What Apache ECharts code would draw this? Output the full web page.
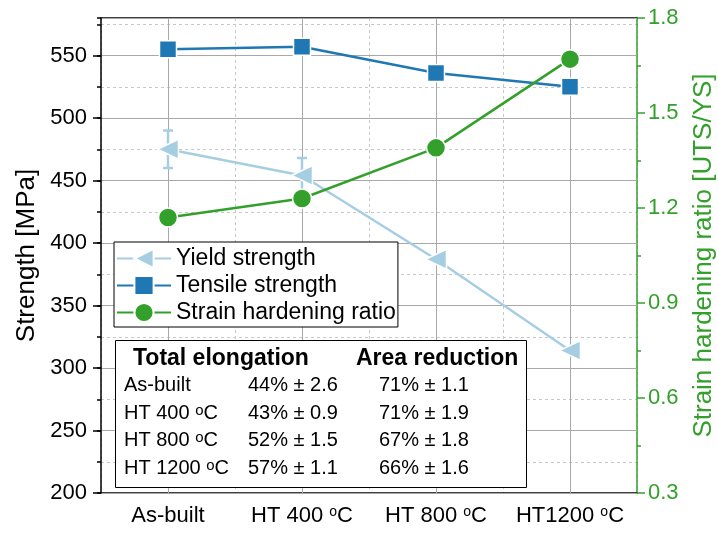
<!DOCTYPE html>
<html lang="en">
<head>
    <meta charset="UTF-8">
    <title>Strength vs heat treatment</title>
    <script src="https://cdn.jsdelivr.net/npm/echarts@6/dist/echarts.min.js"></script>
    <style>
        html, body { margin: 0; padding: 0; background: #fff; }
    </style>
</head>
<body>
<div id="main" style="width: 718px; height: 533px;"></div>
<script>
    // categories on x
    var categories = ['As-built', 'HT 400 °C', 'HT 800 °C', 'HT1200 °C'];
    // strength [MPa]
    var yieldStrength = [475, 454, 387, 314];
    var yieldError = [15, 14, 0, 0];
    var tensileStrength = [555, 557, 536, 525];
    // UTS/YS
    var hardeningRatio = [1.17, 1.23, 1.39, 1.67];
    // table
    var tableLabels = ['As-built', 'HT 400 °C', 'HT 800 °C', 'HT 1200 °C'];
    var elongMean = [44, 43, 52, 57];
    var elongSd = [2.6, 0.9, 1.5, 1.1];
    var areaMean = [71, 71, 67, 66];
    var areaSd = [1.1, 1.9, 1.8, 1.6];

    var FONT = 'Liberation Sans';
    var GREEN = '#33a02c';
    var LIGHT = '#a6cee3';
    var BLUE = '#1f78b4';

    function sup(s) {
        return s.replace('°', '{s|o}');
    }

    var errData = [];
    for (var i = 0; i < categories.length; i++) {
        if (yieldError[i] > 0) {
            errData.push([i, yieldStrength[i] - yieldError[i], yieldStrength[i] + yieldError[i]]);
        }
    }

    // table texts
    var tableGraphic = [
        {type: 'rect', left: 115, top: 340, z: 10,
            shape: {width: 411, height: 147},
            style: {fill: '#fff', stroke: '#000', lineWidth: 1}},
        {type: 'text', left: 133, top: 347, z: 11,
            style: {text: 'Total elongation', font: 'bold 23px "' + FONT + '"', fill: '#000'}},
        {type: 'text', left: 356, top: 347, z: 11,
            style: {text: 'Area reduction', font: 'bold 23px "' + FONT + '"', fill: '#000'}}
    ];
    var rowTop = [375, 403, 430, 458];
    for (var r = 0; r < tableLabels.length; r++) {
        var rich = {s: {fontSize: 15, fontFamily: FONT, verticalAlign: 'top', lineHeight: 12}};
        tableGraphic.push({type: 'text', left: 124, top: rowTop[r], z: 11,
            style: {text: sup(tableLabels[r]), font: '20px "' + FONT + '"', fill: '#000', rich: rich}});
        tableGraphic.push({type: 'text', left: 248, top: rowTop[r], z: 11,
            style: {text: elongMean[r] + '% ± ' + elongSd[r].toFixed(1), font: '20px "' + FONT + '"', fill: '#000'}});
        tableGraphic.push({type: 'text', left: 379, top: rowTop[r], z: 11,
            style: {text: areaMean[r] + '% ± ' + areaSd[r].toFixed(1), font: '20px "' + FONT + '"', fill: '#000'}});
    }

    var myChart = echarts.init(document.getElementById('main'), null, {renderer: 'canvas'});
    var option = {
        animation: false,
        backgroundColor: '#fff',
        textStyle: {fontFamily: FONT},
        grid: {left: 101, right: 81, top: 18, bottom: 40, containLabel: false, outerBoundsMode: 'none'},
        legend: {
            data: ['Yield strength', 'Tensile strength', 'Strain hardening ratio'],
            orient: 'vertical',
            left: 114,
            top: 242,
            itemWidth: 54,
            itemHeight: 24,
            itemGap: 4,
            padding: [5, 2, 3, 2],
            borderColor: '#000',
            borderWidth: 1,
            backgroundColor: '#fff',
            textStyle: {fontSize: 23, color: '#000', fontFamily: FONT},
            z: 10
        },
        xAxis: [
            {
                type: 'category', data: categories, position: 'bottom', boundaryGap: true,
                axisLine: {lineStyle: {color: '#000', width: 1.5}},
                axisTick: {alignWithLabel: true, length: 7, lineStyle: {color: '#000', width: 1.5}},
                axisLabel: {interval: 0, fontSize: 22, color: '#000', margin: 12, fontFamily: FONT,
                    formatter: function (v) { return sup(v); },
                    rich: {s: {fontSize: 14, fontFamily: FONT, verticalAlign: 'top', lineHeight: 14}}},
                splitLine: {show: true, interval: 0, lineStyle: {color: '#c8c8c8', type: [3, 3], width: 1}}
            },
            {
                type: 'category', data: categories, position: 'bottom', boundaryGap: true,
                axisLine: {show: false},
                axisTick: {interval: 0, length: 4, lineStyle: {color: '#000', width: 1.5}},
                axisLabel: {show: false},
                splitLine: {show: false}
            },
            {
                type: 'category', data: categories, position: 'top', boundaryGap: true,
                axisLine: {lineStyle: {color: '#000', width: 1.5}},
                axisTick: {interval: 0, alignWithLabel: true, length: 4, lineStyle: {color: '#000', width: 1.5}},
                axisLabel: {show: false},
                splitLine: {show: false}
            },
            {
                type: 'category', data: categories, position: 'top', boundaryGap: true,
                axisLine: {show: false},
                axisTick: {interval: 0, length: 4, lineStyle: {color: '#000', width: 1.5}},
                axisLabel: {show: false},
                splitLine: {show: false}
            }
        ],
        yAxis: [
            {
                // minor grid (dashed) + minor ticks
                type: 'value', position: 'left', min: 200, max: 580, interval: 25, z: 0,
                axisLine: {show: false},
                axisTick: {show: true, length: 4, lineStyle: {color: '#000', width: 1.5}},
                axisLabel: {show: false},
                splitLine: {show: true, lineStyle: {color: '#c8c8c8', type: [3, 3], width: 1}}
            },
            {
                type: 'value', position: 'left', min: 200, max: 580, interval: 50, z: 1,
                name: 'Strength [MPa]', nameLocation: 'middle', nameRotate: 90, nameGap: 60,
                nameTextStyle: {fontSize: 26, color: '#000', fontFamily: FONT},
                axisLine: {show: true, lineStyle: {color: '#000', width: 1.5}},
                axisTick: {show: true, length: 8, lineStyle: {color: '#000', width: 1.5}},
                axisLabel: {fontSize: 22, color: '#000', margin: 14, showMaxLabel: false, fontFamily: FONT},
                splitLine: {show: true, lineStyle: {color: '#a8a8a8', width: 1}}
            },
            {
                type: 'value', position: 'right', min: 0.3, max: 1.8, interval: 0.3,
                name: 'Strain hardening ratio [UTS/YS]', nameLocation: 'middle', nameRotate: 90, nameGap: 54,
                nameTextStyle: {fontSize: 26, color: GREEN, fontFamily: FONT},
                axisLine: {show: true, lineStyle: {color: GREEN, width: 1.5}},
                axisTick: {show: true, length: 8, lineStyle: {color: GREEN, width: 1.5}},
                minorTick: {show: true, splitNumber: 2, length: 4, lineStyle: {color: GREEN, width: 1.5}},
                axisLabel: {fontSize: 22, color: GREEN, margin: 11, fontFamily: FONT,
                    formatter: function (v) { return v.toFixed(1); }},
                splitLine: {show: false}
            }
        ],
        graphic: tableGraphic,
        series: [
            {
                name: 'Yield error',
                type: 'custom',
                xAxisIndex: 0,
                yAxisIndex: 1,
                z: 3,
                data: errData,
                encode: {x: 0, y: [1, 2]},
                renderItem: function (params, api) {
                    var lo = api.coord([api.value(0), api.value(1)]);
                    var hi = api.coord([api.value(0), api.value(2)]);
                    var st = {stroke: LIGHT, lineWidth: 2.5};
                    return {
                        type: 'group',
                        children: [
                            {type: 'line', shape: {x1: hi[0], y1: hi[1], x2: lo[0], y2: lo[1]}, style: st},
                            {type: 'line', shape: {x1: hi[0] - 5, y1: hi[1], x2: hi[0] + 5, y2: hi[1]}, style: st},
                            {type: 'line', shape: {x1: lo[0] - 5, y1: lo[1], x2: lo[0] + 5, y2: lo[1]}, style: st}
                        ]
                    };
                }
            },
            {
                name: 'Yield strength',
                type: 'line',
                xAxisIndex: 0,
                yAxisIndex: 1,
                z: 4,
                data: yieldStrength,
                symbol: 'triangle',
                symbolRotate: 90,
                symbolSize: [20, 21],
                lineStyle: {color: LIGHT, width: 2.5},
                itemStyle: {color: LIGHT, borderColor: '#fff', borderWidth: 1.5},
                markLine: {
                    silent: true,
                    symbol: 'none',
                    z: 1,
                    label: {show: false},
                    lineStyle: {color: '#a8a8a8', width: 1, type: 'solid'},
                    data: categories.map(function (c) { return {xAxis: c}; })
                }
            },
            {
                name: 'Tensile strength',
                type: 'line',
                xAxisIndex: 0,
                yAxisIndex: 1,
                z: 4,
                data: tensileStrength,
                symbol: 'rect',
                symbolSize: 17,
                lineStyle: {color: BLUE, width: 2.5},
                itemStyle: {color: BLUE, borderColor: '#fff', borderWidth: 1.5}
            },
            {
                name: 'Strain hardening ratio',
                type: 'line',
                xAxisIndex: 0,
                yAxisIndex: 2,
                z: 4,
                data: hardeningRatio,
                symbol: 'circle',
                symbolSize: 19,
                lineStyle: {color: GREEN, width: 2.5},
                itemStyle: {color: GREEN, borderColor: '#fff', borderWidth: 1.5}
            }
        ]
    };
    myChart.setOption(option);
</script>
</body>
</html>
